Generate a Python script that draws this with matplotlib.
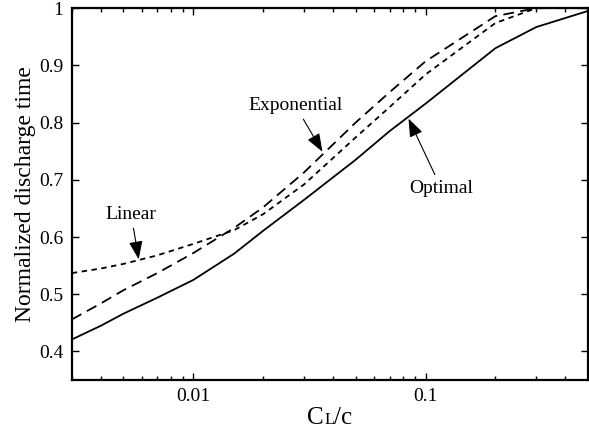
import matplotlib
matplotlib.use("Agg")
import matplotlib.pyplot as plt
from matplotlib.ticker import FixedLocator, NullFormatter, FixedFormatter
from matplotlib.offsetbox import TextArea, HPacker, AnnotationBbox

plt.rcParams['font.family'] = ['Liberation Serif', 'DejaVu Serif']

# Data
cl_ratio = [0.003, 0.004, 0.005, 0.007, 0.01, 0.015, 0.02, 0.03, 0.05,
            0.07, 0.1, 0.2, 0.3, 0.5]
optimal = [0.421, 0.445, 0.466, 0.494, 0.525, 0.571, 0.611, 0.665, 0.735,
           0.785, 0.833, 0.93, 0.967, 0.995]
exponential = [0.456, 0.484, 0.507, 0.537, 0.572, 0.616, 0.652, 0.713, 0.80,
               0.853, 0.907, 0.986, 1.0, 1.0]
linear = [0.537, 0.545, 0.553, 0.568, 0.588, 0.612, 0.64, 0.692, 0.774,
          0.827, 0.884, 0.974, 1.0, 1.0]

x_ticks = [0.01, 0.1]
x_labels = ['0.01', '0.1']
y_ticks = [0.4, 0.5, 0.6, 0.7, 0.8, 0.9, 1.0]
y_labels = ['0.4', '0.5', '0.6', '0.7', '0.8', '0.9', '1']

fig = plt.figure(figsize=(5.89, 4.29), dpi=100)
ax = fig.add_axes([0.122, 0.114, 0.876, 0.867])

ax.plot(cl_ratio, optimal, color='black', lw=1.3, linestyle='-')
ax.plot(cl_ratio, exponential, color='black', lw=1.3, linestyle=(0, (6, 3.5)))
ax.plot(cl_ratio, linear, color='black', lw=1.3, linestyle=(0, (3, 2.5)))

ax.set_xscale('log')
ax.set_xlim(0.003, 0.5)
ax.set_ylim(0.35, 1.0)

ax.xaxis.set_major_locator(FixedLocator(x_ticks))
ax.xaxis.set_major_formatter(FixedFormatter(x_labels))
minors = [m * d for d in (0.001, 0.01, 0.1) for m in range(2, 10)]
ax.xaxis.set_minor_locator(FixedLocator(minors))
ax.xaxis.set_minor_formatter(NullFormatter())
ax.yaxis.set_major_locator(FixedLocator(y_ticks))
ax.yaxis.set_major_formatter(FixedFormatter(y_labels))

ax.tick_params(which='both', direction='in', top=True, right=True,
               labelsize=14, width=1.0)
ax.tick_params(which='major', length=5, pad=6)
ax.tick_params(which='minor', length=3)
for s in ax.spines.values():
    s.set_linewidth(1.6)

ax.set_ylabel('Normalized discharge time', fontsize=17, labelpad=2)

# x label "CL/c" with a small-cap L
parts = [TextArea('C', textprops=dict(fontsize=18)),
         TextArea('L', textprops=dict(fontsize=12)),
         TextArea('/c', textprops=dict(fontsize=18))]
label = HPacker(children=parts, align='baseline', pad=0, sep=0)
ab = AnnotationBbox(label, (0.56, 0.0), xycoords='figure fraction',
                    box_alignment=(0.5, 0.0), frameon=False, pad=0)
fig.add_artist(ab)

arrow = dict(arrowstyle='-|>,head_length=0.8,head_width=0.3', color='black',
             lw=0.8, shrinkA=2, shrinkB=0)
ax.annotate('Linear', xy=(0.00582, 0.561), xytext=(0.0054, 0.64),
            ha='center', va='center', fontsize=14, arrowprops=arrow)
ax.annotate('Exponential', xy=(0.036, 0.749), xytext=(0.0275, 0.83),
            ha='center', va='center', fontsize=14, arrowprops=arrow)
ax.annotate('Optimal', xy=(0.0845, 0.807), xytext=(0.117, 0.685),
            ha='center', va='center', fontsize=14, arrowprops=arrow)

fig.savefig('out.png', dpi=100)
